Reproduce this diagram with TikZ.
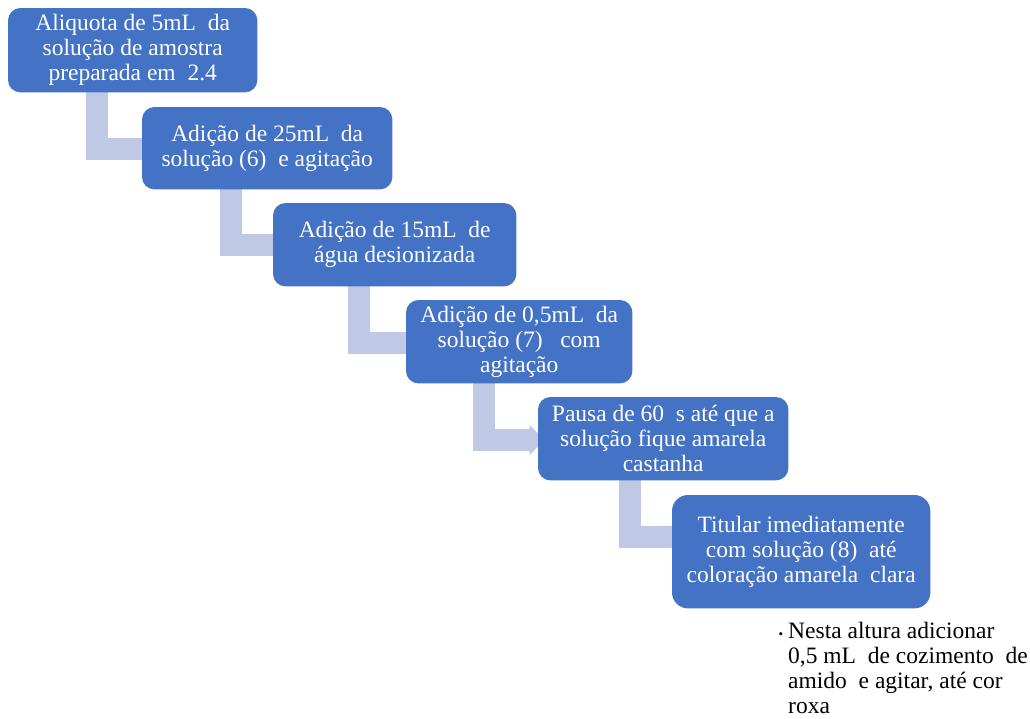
\documentclass[tikz,border=0pt]{standalone}
\usepackage{fontspec}
\setmainfont{Liberation Serif}
\newfontfamily\stepfont{Liberation Serif}
\definecolor{stepblue}{HTML}{4472C4}
\definecolor{linkblue}{RGB}{191,200,228}
\pgfdeclarelayer{background}
\pgfdeclarelayer{boxes}
\pgfsetlayers{background,boxes,main}
\tikzset{
  stepbox/.style={draw=none, text=white, align=center, anchor=north west,
    inner sep=2pt, font=\stepfont\fontsize{23.5}{25}\selectfont},
  boxfill/.style={fill=stepblue, rounded corners=#1},
  boxfill/.default=12.5pt,
  link/.style={draw=linkblue, line width=22pt, line join=miter, line cap=butt},
  note/.style={align=left, anchor=north west, inner sep=0pt, text=black,
    font=\stepfont\fontsize{23.5}{25}\selectfont},
}
\begin{document}
\begin{tikzpicture}[x=1pt,y=-1pt]
\useasboundingbox (0,0) rectangle (1030,718);

% step boxes (text); their rounded fills are laid underneath
\node[stepbox, minimum width=249pt, minimum height=84pt] (b1) at (8,8)
  {Aliquota de 5mL\ \ da\\solução de amostra\\preparada em\ \ 2.4};
\node[stepbox, minimum width=250pt, minimum height=82pt] (b2) at (142,107)
  {Adição de 25mL\ \ da\\solução (6)\ \ e agitação};
\node[stepbox, minimum width=243pt, minimum height=83pt] (b3) at (273,203)
  {Adição de 15mL\ \ de\\água desionizada};
\node[stepbox, minimum width=226pt, minimum height=83pt] (b4) at (406,300)
  {Adição de 0,5mL\ \ da\\solução (7)\ \ \ com\\agitação};
\node[stepbox, minimum width=250pt, minimum height=83pt] (b5) at (538,397)
  {Pausa de 60\ \ s até que a\\solução fique\ amarela\\castanha};
\node[stepbox, minimum width=258pt, minimum height=113pt] (b6) at (672,495)
  {Titular imediatamente\\com solução (8)\ \ até\\coloração amarela\ \ clara};

\begin{pgfonlayer}{boxes}
  \foreach \b in {b1,b2,b3,b4,b5}
    \fill[boxfill] (\b.north west) rectangle (\b.south east);
  \fill[boxfill=16pt] (b6.north west) rectangle (b6.south east);
\end{pgfonlayer}

% elbow connectors, kept behind the boxes
\begin{pgfonlayer}{background}
  \draw[link] ([xshift=89pt]b1.south west) |- ([yshift=-41.5pt]b2.north west);
  \draw[link] ([xshift=89pt]b2.south west) |- ([yshift=-41.5pt]b3.north west);
  \draw[link] ([xshift=85.5pt]b3.south west) |- ([yshift=-43pt]b4.north west);
  \draw[link] ([xshift=78pt]b4.south west) |- ([xshift=-8pt,yshift=-43pt]b5.north west);
  \fill[linkblue] ([xshift=-8.5pt,yshift=-28pt]b5.north west)
    -- ([xshift=7pt,yshift=-43pt]b5.north west)
    -- ([xshift=-8.5pt,yshift=-58pt]b5.north west) -- cycle;
  \draw[link] ([xshift=92pt]b5.south west) |- ([yshift=-41.5pt]b6.north west);
\end{pgfonlayer}

% side note
\node[note] (n) at (788,622)
  {\llap{{\fontsize{13}{13}\selectfont\textbullet}\hspace{5pt}}Nesta altura adicionar\\
   0,5 mL\ \ de cozimento\ \ de\\
   amido\ \ e agitar, até cor\\
   roxa};
\end{tikzpicture}
\end{document}
